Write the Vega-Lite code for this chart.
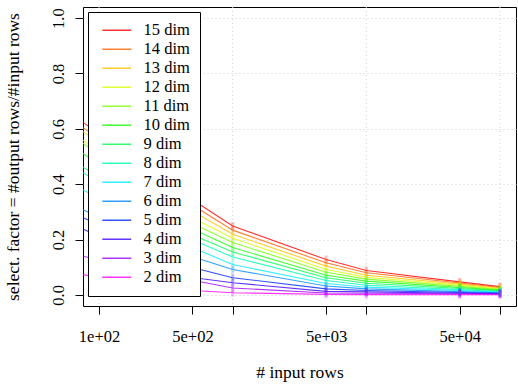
{
  "$schema": "https://vega.github.io/schema/vega-lite/v6.json",
  "width": 433,
  "height": 299,
  "autosize": {"type": "none"},
  "padding": {"left": 83, "top": 7, "right": 2, "bottom": 81},
  "background": "white",
  "config": {
    "font": "Liberation Serif",
    "view": {"stroke": "black", "strokeWidth": 1},
    "axis": {
      "labelFont": "Liberation Serif", "labelFontSize": 16.5, "labelColor": "black",
      "titleFont": "Liberation Serif", "titleFontSize": 17.5, "titleColor": "black", "titleFontWeight": "normal",
      "tickColor": "black", "tickSize": 8, "tickWidth": 1, "domain": false,
      "labelOverlap": false, "labelFlush": false
    },
    "legend": {
      "labelFont": "Liberation Serif", "labelFontSize": 16.5, "labelColor": "black"
    }
  },
  "datasets": {
    "grid": [{"gx": 100}, {"gx": 1000}, {"gx": 10000}, {"gx": 100000}],
    "lines": [
      {"dim": "15 dim", "rows": 50, "sel": 0.685}, {"dim": "15 dim", "rows": 500, "sel": 0.344}, {"dim": "15 dim", "rows": 1000, "sel": 0.249}, {"dim": "15 dim", "rows": 5000, "sel": 0.128}, {"dim": "15 dim", "rows": 10000, "sel": 0.088}, {"dim": "15 dim", "rows": 50000, "sel": 0.047}, {"dim": "15 dim", "rows": 100000, "sel": 0.030},
      {"dim": "14 dim", "rows": 50, "sel": 0.666}, {"dim": "14 dim", "rows": 500, "sel": 0.325}, {"dim": "14 dim", "rows": 1000, "sel": 0.234}, {"dim": "14 dim", "rows": 5000, "sel": 0.116}, {"dim": "14 dim", "rows": 10000, "sel": 0.080}, {"dim": "14 dim", "rows": 50000, "sel": 0.043}, {"dim": "14 dim", "rows": 100000, "sel": 0.027},
      {"dim": "13 dim", "rows": 50, "sel": 0.653}, {"dim": "13 dim", "rows": 500, "sel": 0.303}, {"dim": "13 dim", "rows": 1000, "sel": 0.219}, {"dim": "13 dim", "rows": 5000, "sel": 0.104}, {"dim": "13 dim", "rows": 10000, "sel": 0.071}, {"dim": "13 dim", "rows": 50000, "sel": 0.039}, {"dim": "13 dim", "rows": 100000, "sel": 0.024},
      {"dim": "12 dim", "rows": 50, "sel": 0.621}, {"dim": "12 dim", "rows": 500, "sel": 0.279}, {"dim": "12 dim", "rows": 1000, "sel": 0.205}, {"dim": "12 dim", "rows": 5000, "sel": 0.092}, {"dim": "12 dim", "rows": 10000, "sel": 0.064}, {"dim": "12 dim", "rows": 50000, "sel": 0.035}, {"dim": "12 dim", "rows": 100000, "sel": 0.022},
      {"dim": "11 dim", "rows": 50, "sel": 0.612}, {"dim": "11 dim", "rows": 500, "sel": 0.258}, {"dim": "11 dim", "rows": 1000, "sel": 0.189}, {"dim": "11 dim", "rows": 5000, "sel": 0.082}, {"dim": "11 dim", "rows": 10000, "sel": 0.057}, {"dim": "11 dim", "rows": 50000, "sel": 0.031}, {"dim": "11 dim", "rows": 100000, "sel": 0.019},
      {"dim": "10 dim", "rows": 50, "sel": 0.571}, {"dim": "10 dim", "rows": 500, "sel": 0.238}, {"dim": "10 dim", "rows": 1000, "sel": 0.171}, {"dim": "10 dim", "rows": 5000, "sel": 0.071}, {"dim": "10 dim", "rows": 10000, "sel": 0.050}, {"dim": "10 dim", "rows": 50000, "sel": 0.027}, {"dim": "10 dim", "rows": 100000, "sel": 0.017},
      {"dim": "9 dim", "rows": 50, "sel": 0.516}, {"dim": "9 dim", "rows": 500, "sel": 0.217}, {"dim": "9 dim", "rows": 1000, "sel": 0.155}, {"dim": "9 dim", "rows": 5000, "sel": 0.062}, {"dim": "9 dim", "rows": 10000, "sel": 0.042}, {"dim": "9 dim", "rows": 50000, "sel": 0.023}, {"dim": "9 dim", "rows": 100000, "sel": 0.015},
      {"dim": "8 dim", "rows": 50, "sel": 0.495}, {"dim": "8 dim", "rows": 500, "sel": 0.199}, {"dim": "8 dim", "rows": 1000, "sel": 0.137}, {"dim": "8 dim", "rows": 5000, "sel": 0.052}, {"dim": "8 dim", "rows": 10000, "sel": 0.035}, {"dim": "8 dim", "rows": 50000, "sel": 0.019}, {"dim": "8 dim", "rows": 100000, "sel": 0.012},
      {"dim": "7 dim", "rows": 50, "sel": 0.425}, {"dim": "7 dim", "rows": 500, "sel": 0.171}, {"dim": "7 dim", "rows": 1000, "sel": 0.110}, {"dim": "7 dim", "rows": 5000, "sel": 0.041}, {"dim": "7 dim", "rows": 10000, "sel": 0.028}, {"dim": "7 dim", "rows": 50000, "sel": 0.016}, {"dim": "7 dim", "rows": 100000, "sel": 0.010},
      {"dim": "6 dim", "rows": 50, "sel": 0.345}, {"dim": "6 dim", "rows": 500, "sel": 0.138}, {"dim": "6 dim", "rows": 1000, "sel": 0.092}, {"dim": "6 dim", "rows": 5000, "sel": 0.032}, {"dim": "6 dim", "rows": 10000, "sel": 0.022}, {"dim": "6 dim", "rows": 50000, "sel": 0.012}, {"dim": "6 dim", "rows": 100000, "sel": 0.008},
      {"dim": "5 dim", "rows": 50, "sel": 0.319}, {"dim": "5 dim", "rows": 500, "sel": 0.099}, {"dim": "5 dim", "rows": 1000, "sel": 0.062}, {"dim": "5 dim", "rows": 5000, "sel": 0.022}, {"dim": "5 dim", "rows": 10000, "sel": 0.016}, {"dim": "5 dim", "rows": 50000, "sel": 0.009}, {"dim": "5 dim", "rows": 100000, "sel": 0.006},
      {"dim": "4 dim", "rows": 50, "sel": 0.276}, {"dim": "4 dim", "rows": 500, "sel": 0.063}, {"dim": "4 dim", "rows": 1000, "sel": 0.044}, {"dim": "4 dim", "rows": 5000, "sel": 0.013}, {"dim": "4 dim", "rows": 10000, "sel": 0.011}, {"dim": "4 dim", "rows": 50000, "sel": 0.006}, {"dim": "4 dim", "rows": 100000, "sel": 0.004},
      {"dim": "3 dim", "rows": 50, "sel": 0.159}, {"dim": "3 dim", "rows": 500, "sel": 0.053}, {"dim": "3 dim", "rows": 1000, "sel": 0.025}, {"dim": "3 dim", "rows": 5000, "sel": 0.007}, {"dim": "3 dim", "rows": 10000, "sel": 0.006}, {"dim": "3 dim", "rows": 50000, "sel": 0.004}, {"dim": "3 dim", "rows": 100000, "sel": 0.003},
      {"dim": "2 dim", "rows": 50, "sel": 0.086}, {"dim": "2 dim", "rows": 500, "sel": 0.016}, {"dim": "2 dim", "rows": 1000, "sel": 0.008}, {"dim": "2 dim", "rows": 5000, "sel": 0.002}, {"dim": "2 dim", "rows": 10000, "sel": 0.001}, {"dim": "2 dim", "rows": 50000, "sel": 0.001}, {"dim": "2 dim", "rows": 100000, "sel": 0.001}
    ]
  },
  "layer": [
    {
      "data": {"name": "grid"},
      "mark": {"type": "rule", "color": "#cfcfcf", "strokeDash": [1, 3], "strokeWidth": 1},
      "encoding": {
        "x": {"field": "gx", "type": "quantitative", "scale": {"type": "log", "domain": [75.86, 131826], "nice": false, "zero": false}}
      }
    },
    {
      "data": {"name": "lines"},
      "mark": {"type": "line", "strokeWidth": 1.1, "opacity": 0.8, "clip": true},
      "encoding": {
        "x": {
          "field": "rows", "type": "quantitative",
          "scale": {"type": "log", "domain": [75.86, 131826], "nice": false, "zero": false},
          "axis": {
            "values": [100, 500, 1000, 5000, 10000, 50000, 100000],
            "labelExpr": "datum.value == 100 ? '1e+02' : datum.value == 500 ? '5e+02' : datum.value == 5000 ? '5e+03' : datum.value == 50000 ? '5e+04' : ''",
            "grid": false,
            "labelBaseline": "alphabetic", "labelPadding": 27,
            "title": "# input rows", "titleY": 71, "titleBaseline": "alphabetic"
          }
        },
        "y": {
          "field": "sel", "type": "quantitative",
          "scale": {"domain": [-0.04, 1.04], "nice": false, "zero": false},
          "axis": {
            "values": [0, 0.2, 0.4, 0.6, 0.8, 1.0],
            "format": ".1f",
            "labelAngle": 270, "labelAlign": "center", "labelBaseline": "alphabetic", "labelPadding": 12,
            "grid": true, "gridColor": "#cfcfcf", "gridDash": [1, 3], "gridWidth": 1,
            "title": "select. factor = #output rows/#input rows",
            "titleX": -65, "titleAngle": 270, "titleAlign": "center", "titleBaseline": "alphabetic"
          }
        },
        "color": {
          "field": "dim", "type": "nominal",
          "scale": {
            "domain": ["15 dim", "14 dim", "13 dim", "12 dim", "11 dim", "10 dim", "9 dim", "8 dim", "7 dim", "6 dim", "5 dim", "4 dim", "3 dim", "2 dim"],
            "range": ["#FF0000", "#FF6200", "#FFC400", "#D8FF00", "#76FF00", "#14FF00", "#00FF4E", "#00FFB1", "#00EBFF", "#0089FF", "#0027FF", "#3B00FF", "#9D00FF", "#FF00FF"]
          },
          "legend": {
            "orient": "none", "legendX": 5, "legendY": 5, "direction": "vertical",
            "title": null, "fillColor": "white", "strokeColor": "black", "padding": 10,
            "symbolType": "M-3,0H3", "symbolSize": 93, "symbolStrokeWidth": 1.5,
            "symbolOffset": 10.5, "labelOffset": 18.5, "rowPadding": 2, "labelLimit": 0
          }
        }
      }
    },
    {
      "data": {"name": "lines"},
      "mark": {"type": "tick", "orient": "vertical", "size": 8, "thickness": 3, "opacity": 0.25, "clip": true},
      "encoding": {
        "x": {"field": "rows", "type": "quantitative"},
        "y": {"field": "sel", "type": "quantitative"},
        "color": {"field": "dim", "type": "nominal", "legend": null}
      }
    }
  ]
}
